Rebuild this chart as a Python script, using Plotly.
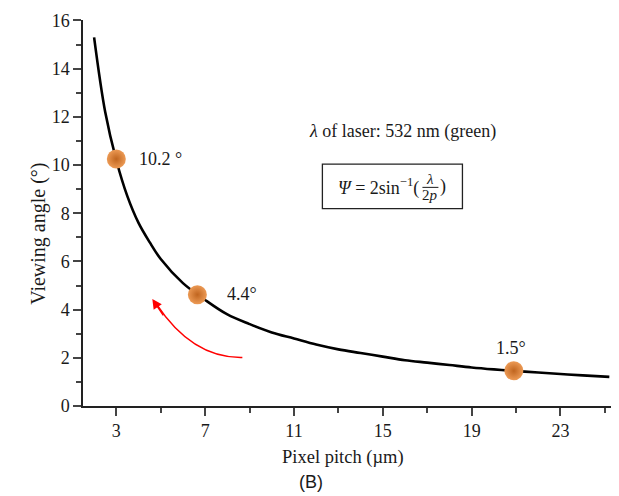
import plotly.graph_objects as go

# Curve values
pitch = [2.0, 2.5, 3.0, 3.5, 4.0, 4.5, 5.0, 6.0, 7.0, 8.0, 9.0, 10.0, 11.0, 12.0, 13.0,
         14.0, 15.0, 16.0, 17.0, 18.0, 19.0, 20.0, 21.0, 22.0, 23.0, 24.0, 25.2]
angle = [15.3, 12.2, 10.2, 8.7, 7.6, 6.8, 6.1, 5.1, 4.4, 3.8, 3.4, 3.05, 2.8, 2.55, 2.35,
         2.2, 2.05, 1.9, 1.8, 1.7, 1.6, 1.52, 1.45, 1.39, 1.33, 1.27, 1.21]

# Highlighted points
pt_x = [3.0, 6.65, 20.9]
pt_y = [10.25, 4.62, 1.46]
pt_labels = ["10.2 °", "4.4°", "1.5°"]

x_ticks = [3, 7, 11, 15, 19, 23]
y_ticks = [0, 2, 4, 6, 8, 10, 12, 14, 16]

SERIF = "Liberation Serif, Times New Roman, serif"
TXT = "#1a1a1a"

# page pixel -> data helpers (plot area on page: x 83..616, y 17..406)
def dx(px):
    return 3 + (px - 116) / 22.2

def dy(py):
    return (406 - py) / 24.3

def ppx(px):
    return (px - 83) / 533

def ppy(py):
    return (406 - py) / 389

fig = go.Figure()
fig.add_trace(go.Scatter(x=pitch, y=angle, mode="lines", line=dict(color="black", width=2.6, shape="spline"),
                         hoverinfo="skip", showlegend=False))
fig.add_trace(go.Scatter(x=pt_x, y=pt_y, mode="markers",
                         marker=dict(size=19, color="#ec9a55", line=dict(width=0),
                                     gradient=dict(type="radial", color="#c0651f")),
                         showlegend=False))

# point labels
fig.add_annotation(x=dx(137), y=dy(157), text=pt_labels[0], showarrow=False, xanchor="left",
                   font=dict(family=SERIF, size=18, color=TXT))
fig.add_annotation(x=dx(225), y=dy(293), text=pt_labels[1], showarrow=False, xanchor="left",
                   font=dict(family=SERIF, size=18, color=TXT))
fig.add_annotation(x=dx(511), y=dy(347), text=pt_labels[2], showarrow=False, xanchor="center",
                   font=dict(family=SERIF, size=18, color=TXT))

# laser text
fig.add_annotation(x=dx(402), y=dy(129), text="<i>λ</i> of laser: 532 nm (green)", showarrow=False,
                   font=dict(family=SERIF, size=18, color=TXT))

# formula box
fig.add_shape(type="rect", x0=dx(322), x1=dx(462), y0=dy(207), y1=dy(162),
              line=dict(color="#222", width=1.3))
fig.add_annotation(x=dx(421), y=dy(185), text="<i>Ψ</i> = 2sin<sup>−1</sup>(", showarrow=False,
                   xanchor="right", font=dict(family=SERIF, size=18, color=TXT))
fig.add_annotation(x=dx(430), y=dy(184), text="<i>λ</i>", showarrow=False, yanchor="bottom",
                   font=dict(family=SERIF, size=15, color=TXT), yshift=-3)
fig.add_annotation(x=dx(430), y=dy(186), text="2<i>p</i>", showarrow=False, yanchor="top",
                   font=dict(family=SERIF, size=15, color=TXT), yshift=3)
fig.add_shape(type="line", x0=dx(422), x1=dx(438), y0=dy(185.5), y1=dy(185.5), line=dict(color=TXT, width=1))
fig.add_annotation(x=dx(438), y=dy(185), text=")", showarrow=False, xanchor="left",
                   font=dict(family=SERIF, size=18, color=TXT))

# red curved arrow
p0 = (dx(242), dy(357))
c = (dx(192), dy(358))
p2 = (dx(156), dy(303))
fig.add_shape(type="path", path=f"M {p0[0]},{p0[1]} Q {c[0]},{c[1]} {p2[0]},{p2[1]}",
              line=dict(color="red", width=1.5))
fig.add_annotation(x=dx(152), y=dy(298), ax=12, ay=18, text="", showarrow=True, arrowhead=2,
                   arrowsize=1.3, arrowwidth=1.5, arrowcolor="red", standoff=0)

# axis titles / caption
fig.add_annotation(xref="paper", yref="paper", x=ppx(342.5), y=ppy(458), text="Pixel pitch (µm)", showarrow=False,
                   font=dict(family=SERIF, size=18.5, color=TXT), yanchor="middle")
fig.add_annotation(xref="paper", yref="paper", x=ppx(25), y=ppy(233), text="Viewing angle (°)", showarrow=False,
                   textangle=-90, font=dict(family=SERIF, size=20, color=TXT))
fig.add_annotation(xref="paper", yref="paper", x=ppx(311), y=ppy(483), text="(B)", showarrow=False,
                   font=dict(family="Liberation Sans, Arial, sans-serif", size=18, color=TXT), yanchor="middle")

fig.update_xaxes(range=[1.5, 25.5], tickvals=x_ticks, ticks="outside", ticklen=8, tickwidth=1.5,
                 minor=dict(tickvals=[5, 9, 13, 17, 21, 25], ticks="outside", ticklen=5, tickwidth=1.5, showgrid=False),
                 showline=True, linecolor="#222", linewidth=1.5, showgrid=False, zeroline=False,
                 ticklabeloverflow="allow",
                 tickfont=dict(family=SERIF, size=18, color=TXT))
fig.update_yaxes(range=[0, 16.02], tickvals=y_ticks, ticks="outside", ticklen=8, tickwidth=1.5,
                 minor=dict(tickvals=[1, 3, 5, 7, 9, 11, 13, 15], ticks="outside", ticklen=5, tickwidth=1.5, showgrid=False),
                 showline=True, linecolor="#222", linewidth=1.5, showgrid=False, zeroline=False,
                 ticklabeloverflow="allow",
                 tickfont=dict(family=SERIF, size=18, color=TXT))

# page has an 8px body margin, so the figure is drawn 8px smaller and offset
fig.update_layout(width=611, height=488, margin=dict(l=75, r=3, t=9, b=90),
                  plot_bgcolor="white", paper_bgcolor="white", showlegend=False)

fig.write_html("out.html")
